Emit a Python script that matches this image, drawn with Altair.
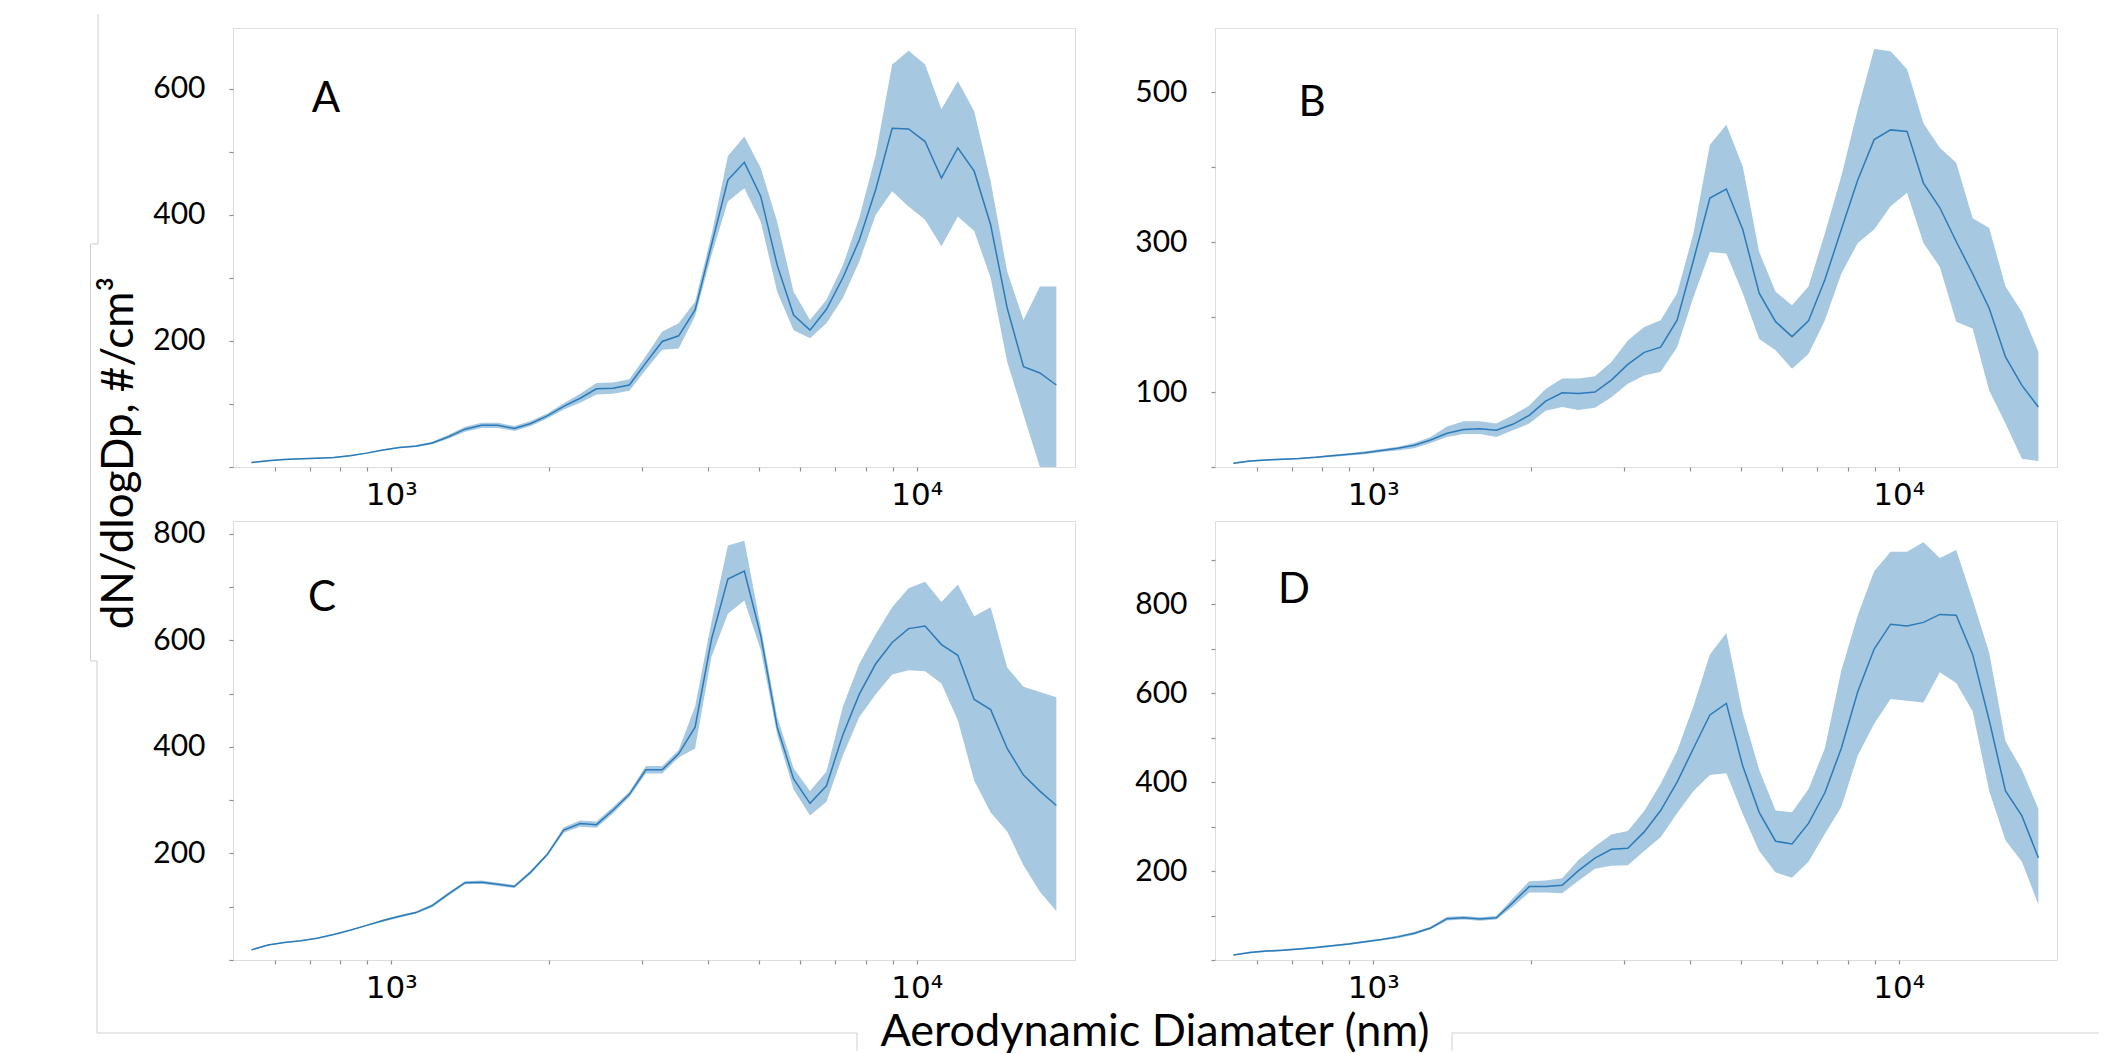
import altair as alt
import pandas as pd

# Aerodynamic diameter bins (nm)
DIAMETERS = [542, 583, 626, 673, 723, 777, 835, 898, 965, 1037,
             1114, 1197, 1286, 1382, 1486, 1596, 1715, 1843, 1981, 2129,
             2288, 2458, 2642, 2839, 3051, 3278, 3523, 3786, 4068, 4371,
             4698, 5048, 5425, 5829, 6264, 6732, 7234, 7774, 8354, 8977,
             9647, 10370, 11140, 11970, 12860, 13820, 14860, 15960, 17150, 18430]

A_MEAN = [7, 10, 12, 13, 14, 15, 18, 22, 27, 31,
          33, 38, 48, 60, 66, 66, 61, 69, 81, 96,
          109, 124, 125, 130, 165, 199, 208, 249, 352, 455,
          483, 429, 320, 241, 217, 250, 300, 360, 440, 537,
          536, 516, 458, 506, 469, 384, 252, 159, 149, 130]
A_LO = [6, 9, 11, 12, 13, 14, 17, 21, 26, 30,
        32, 36, 45, 56, 62, 62, 57, 65, 77, 91,
        102, 115, 116, 121, 154, 186, 188, 239, 336, 421,
        442, 389, 278, 217, 204, 228, 268, 326, 400, 437,
        413, 392, 350, 397, 374, 300, 167, 83, 0, 0]
A_HI = [8, 11, 13, 14, 15, 16, 19, 23, 28, 32,
        35, 40, 51, 64, 70, 70, 65, 73, 85, 101,
        116, 133, 134, 139, 176, 215, 228, 262, 368, 493,
        524, 474, 389, 278, 233, 265, 320, 395, 495, 638,
        660, 638, 567, 612, 564, 453, 310, 233, 286, 286]

B_MEAN = [5, 8, 9.5, 10.5, 11.5, 13, 15, 17, 19, 22,
          25, 29, 36, 45, 50, 51, 49, 57, 69, 88,
          99, 98, 100, 116, 137, 153, 160, 196, 276, 359,
          371, 317, 232, 194, 174, 195, 250, 317, 383, 437,
          450, 448, 379, 346, 301, 258, 212, 147, 109, 80]
B_LO = [4, 7, 8.5, 9.5, 10.5, 12, 13.5, 15.5, 17, 20,
        22, 25, 32, 40, 44, 44, 40, 49, 58, 75,
        80, 76, 79, 93, 111, 122, 127, 160, 227, 287,
        285, 232, 171, 156, 131, 151, 196, 258, 299, 317,
        348, 366, 299, 267, 194, 185, 102, 58, 11, 8]
B_HI = [6, 9, 10.5, 11.5, 12.5, 14, 16.5, 18.5, 21, 24,
        27, 32, 40, 54, 61, 61, 58, 69, 82, 104,
        118, 118, 121, 140, 169, 187, 196, 232, 312, 430,
        457, 401, 287, 234, 216, 241, 312, 388, 477, 558,
        555, 531, 459, 426, 406, 332, 319, 241, 207, 154]

C_MEAN = [19, 28, 33, 36, 41, 48, 56, 65, 74, 82,
          89, 102, 124, 145, 146, 142, 138, 165, 198, 244,
          256, 254, 281, 311, 357, 357, 387, 437, 602, 715,
          730, 609, 437, 340, 294, 327, 423, 499, 556, 596,
          622, 627, 592, 572, 489, 470, 397, 347, 317, 290]
C_LO = [18, 27, 32, 35, 40, 47, 55, 64, 72, 80,
        87, 99, 121, 142, 143, 139, 135, 162, 195, 239,
        250, 248, 275, 306, 350, 350, 380, 397, 569, 650,
        675, 582, 423, 320, 271, 297, 384, 456, 499, 536,
        544, 542, 519, 450, 337, 277, 241, 178, 128, 92]
C_HI = [20, 29, 34, 37, 42, 49, 57, 66, 76, 84,
        91, 105, 127, 148, 149, 145, 141, 168, 201, 249,
        262, 260, 287, 316, 364, 364, 394, 476, 635, 778,
        787, 625, 456, 360, 317, 354, 476, 556, 612, 662,
        698, 710, 672, 705, 645, 662, 549, 513, 503, 493]

D_MEAN = [11, 17, 20, 22, 25, 28, 32, 36, 41, 46,
          52, 60, 72, 93, 95, 92, 95, 129, 165, 165,
          168, 201, 229, 249, 251, 288, 336, 400, 476, 551,
          577, 436, 332, 267, 261, 307, 376, 476, 603, 699,
          755, 751, 759, 777, 775, 687, 539, 380, 324, 230]
D_LO = [10, 15, 18, 20, 23, 26, 30, 34, 39, 44,
        49, 57, 69, 89, 91, 88, 91, 120, 152, 152,
        150, 178, 205, 212, 213, 245, 276, 330, 380, 416,
        420, 328, 245, 197, 185, 221, 284, 344, 460, 531,
        587, 583, 579, 647, 623, 559, 380, 269, 221, 125]
D_HI = [12, 19, 22, 24, 27, 30, 34, 38, 43, 48,
        55, 63, 75, 97, 99, 96, 99, 138, 177, 179,
        184, 225, 255, 282, 290, 335, 396, 470, 571, 687,
        735, 555, 428, 336, 332, 384, 476, 651, 775, 874,
        918, 918, 939, 904, 922, 810, 691, 492, 428, 340]

X_TICKS = [600, 700, 800, 900, 1000, 2000, 3000, 4000, 5000, 6000,
           7000, 8000, 9000, 10000]
X_DOMAIN = [500, 20000]

LINE_COLOR = "#2b7bba"
BAND_COLOR = "#a6c8e0"
FRAME = "#8f8f8f"
ART = "#cfcfcf"
W, H = 842, 439


def panel(letter, mean, lo, hi, ymax, yticks, label_rule, lpos, extras=()):
    df = pd.DataFrame({"d": DIAMETERS, "mean": mean, "lo": lo, "hi": hi})
    xenc = alt.X(
        "d:Q",
        scale=alt.Scale(type="log", domain=X_DOMAIN, nice=False),
        axis=alt.Axis(values=X_TICKS, title=None, grid=False, domain=False,
                      labelExpr="datum.value == 1000 ? '10³' : (datum.value == 10000 ? '10⁴' : '')",
                      tickSize=4, tickColor=FRAME, tickWidth=1.2,
                      labelFont="DejaVu Sans", labelFontSize=31, labelColor="black",
                      labelPadding=9, labelOverlap=False, labelFlush=False),
    )
    yscale = alt.Scale(domain=[0, ymax], nice=False, zero=False)
    yenc = alt.Y(
        "lo:Q", scale=yscale,
        axis=alt.Axis(values=yticks, title=None, grid=False, domain=False,
                      labelExpr=label_rule, tickSize=4, tickColor=FRAME, tickWidth=1.2,
                      labelFont="Lato", labelFontSize=30, labelColor="black",
                      labelPadding=24, labelOverlap=False, labelFlush=False),
    )
    band = alt.Chart(df).mark_area(color=BAND_COLOR, opacity=1, clip=True).encode(
        x=xenc, y=yenc, y2="hi:Q")
    line = alt.Chart(df).mark_line(color=LINE_COLOR, strokeWidth=1.5, clip=True).encode(
        x="d:Q", y="mean:Q")
    lab = alt.Chart(pd.DataFrame({"t": [letter]})).mark_text(
        font="Lato", fontSize=42, align="center", baseline="alphabetic", color="black"
    ).encode(x=alt.value(lpos[0]), y=alt.value(lpos[1]), text="t:N")
    return alt.layer(band, line, lab, *extras).properties(width=W, height=H)


one = pd.DataFrame({"t": ["dN/dlogDp, #/cm³"]})
ytitle = alt.Chart(one).mark_text(
    font="Lato", fontSize=44, align="center", baseline="alphabetic", angle=270, color="black"
).encode(x=alt.value(-100), y=alt.value(425), text="t:N")

two = pd.DataFrame({"t": ["Aerodynamic Diamater (nm)"]})
xtitle = alt.Chart(two).mark_text(
    font="Lato", fontSize=45, align="center", baseline="alphabetic", color="black"
).encode(x=alt.value(922), y=alt.value(525), text="t:N")

# faint frame lines of the surrounding slide (pixel positions relative to panel C)
SEGMENTS = [(-135, -507, -135, -277), (-142.5, -277, -135, -277),
            (-142.5, -277, -142.5, 140), (-142.5, 140, -136, 140),
            (-136, 140, -136, 512), (-136, 512, 624, 512), (624, 512, 624, 530),
            (1219, 512, 1866, 512), (1219, 512, 1219, 530)]
seg_charts = []
for (sx1, sy1, sx2, sy2) in SEGMENTS:
    seg_charts.append(
        alt.Chart(pd.DataFrame({"k": [0]})).mark_rule(color=ART, strokeWidth=1).encode(
            x=alt.value(sx1), y=alt.value(sy1), x2=alt.value(sx2), y2=alt.value(sy2)))

pA = panel("A", A_MEAN, A_LO, A_HI, 696, list(range(0, 700, 100)),
           "(datum.value % 200 == 0 && datum.value > 0) ? datum.label : ''", (93, 84), [ytitle])
pB = panel("B", B_MEAN, B_LO, B_HI, 586, list(range(0, 600, 100)),
           "(datum.value % 200 == 100) ? datum.label : ''", (97, 88))
pC = panel("C", C_MEAN, C_LO, C_HI, 824, list(range(0, 900, 100)),
           "(datum.value % 200 == 0 && datum.value > 0) ? datum.label : ''", (89, 90),
           [xtitle] + seg_charts)
pD = panel("D", D_MEAN, D_LO, D_HI, 987, list(range(0, 1000, 100)),
           "(datum.value % 200 == 0 && datum.value > 0) ? datum.label : ''", (79, 82))

chart = alt.concat(
    pA, pB, pC, pD, columns=2, bounds="flush",
    spacing=alt.RowColnumber(row=54, column=140)
).properties(
    padding={"left": 81, "top": 5, "right": 0, "bottom": 0}
).configure_view(stroke=FRAME, strokeWidth=2).configure(background="white")

chart.save("out.html", embed_options={"renderer": "svg", "actions": False})
